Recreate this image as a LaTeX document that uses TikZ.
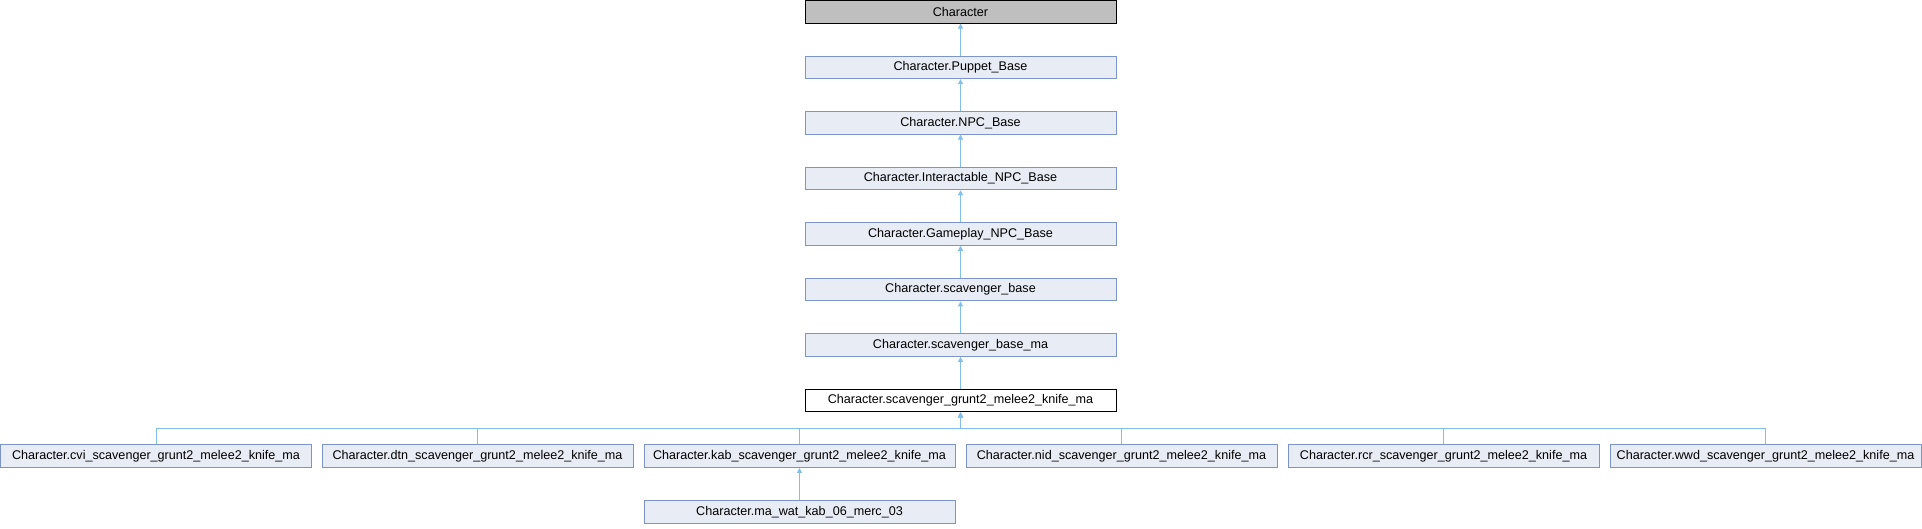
\documentclass[tikz,border=0pt]{standalone}
\usepackage{fontspec}
\setmainfont{Liberation Sans}
\usetikzlibrary{arrows.meta}
\definecolor{boxfill}{RGB}{232,236,245}
\definecolor{boxline}{RGB}{124,148,200}
\definecolor{edgeline}{RGB}{130,192,235}
\definecolor{rootfill}{RGB}{191,191,191}
\tikzset{
  klass/.style={draw=boxline,fill=boxfill,line width=1pt,minimum width=311pt,
    minimum height=22.5pt,inner sep=0pt,font=\fontsize{12.6}{14}\selectfont},
  root/.style={draw=black,fill=rootfill},
  current/.style={draw=black,fill=white},
  inherit/.style={draw=edgeline,line width=1pt,{Triangle[width=5pt,length=5pt]}-}
}
\newcommand{\Klass}[4]% pos, name, text, extra style
{\node[klass,#4] (#2) at (#1) {#3};}
\newcommand{\Inherit}[2]% parent, child
{\draw[inherit] (#1.south) -- (#2.north);}
\newcommand{\Derive}[2]% parent, child (via bus)
{\draw[inherit] (#1.south) -- (#1.south |- bus) -| (#2.north);}

\begin{document}
\begin{tikzpicture}[x=1pt,y=-1pt]
  \useasboundingbox (0,0) rectangle (1922,528);
  \Klass{960.5, 11.8}{char}{Character}{root}
  \Klass{960.5, 67.4}{puppet}{Character.Puppet\_Base}{}
  \Klass{960.5, 122.9}{npc}{Character.NPC\_Base}{}
  \Klass{960.5, 178.5}{inter}{Character.Interactable\_NPC\_Base}{}
  \Klass{960.5, 234.0}{game}{Character.Gameplay\_NPC\_Base}{}
  \Klass{960.5, 289.6}{scav}{Character.scavenger\_base}{}
  \Klass{960.5, 345.1}{scavma}{Character.scavenger\_base\_ma}{}
  \Klass{960.5, 400.7}{grunt}{Character.scavenger\_grunt2\_melee2\_knife\_ma}{current}
  % derived classes
  \Klass{156, 456.2}{cvi}{Character.cvi\_scavenger\_grunt2\_melee2\_knife\_ma}{}
  \Klass{477.5, 456.2}{dtn}{Character.dtn\_scavenger\_grunt2\_melee2\_knife\_ma}{}
  \Klass{799.5, 456.2}{kab}{Character.kab\_scavenger\_grunt2\_melee2\_knife\_ma}{}
  \Klass{1121.5, 456.2}{nid}{Character.nid\_scavenger\_grunt2\_melee2\_knife\_ma}{}
  \Klass{1443.5, 456.2}{rcr}{Character.rcr\_scavenger\_grunt2\_melee2\_knife\_ma}{}
  \Klass{1765.5, 456.2}{wwd}{Character.wwd\_scavenger\_grunt2\_melee2\_knife\_ma}{}
  \Klass{799.5, 511.8}{merc}{Character.ma\_wat\_kab\_06\_merc\_03}{}
  \coordinate (bus) at (960.5, 428);
  \Inherit{char}{puppet}
  \Inherit{puppet}{npc}
  \Inherit{npc}{inter}
  \Inherit{inter}{game}
  \Inherit{game}{scav}
  \Inherit{scav}{scavma}
  \Inherit{scavma}{grunt}
  \Derive{grunt}{cvi}
  \Derive{grunt}{dtn}
  \Derive{grunt}{kab}
  \Derive{grunt}{nid}
  \Derive{grunt}{rcr}
  \Derive{grunt}{wwd}
  \Inherit{kab}{merc}
\end{tikzpicture}
\end{document}
